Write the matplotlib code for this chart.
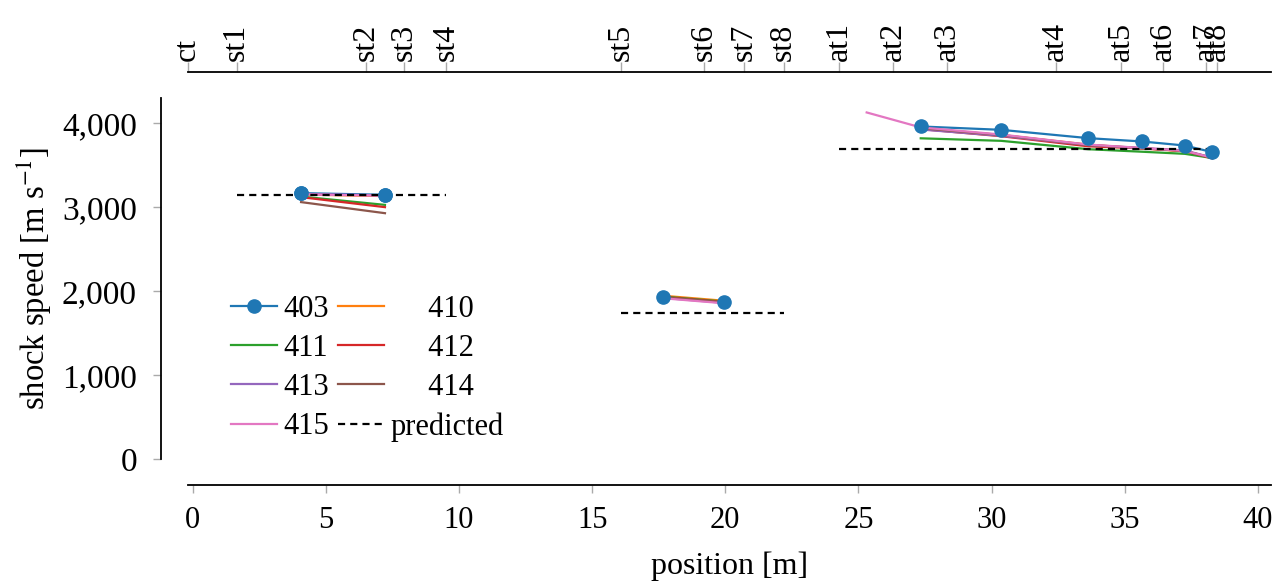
import matplotlib
matplotlib.use("Agg")
import matplotlib.pyplot as plt
from matplotlib.ticker import FuncFormatter

# sensor positions along the tube [m]
sensor_names = ["ct", "st1", "st2", "st3", "st4", "st5", "st6", "st7", "st8",
                "at1", "at2", "at3", "at4", "at5", "at6", "at7", "at8"]
sensor_pos = [-0.19, 1.65, 6.50, 7.95, 9.51, 16.09, 19.21, 20.70, 22.19,
              24.28, 26.31, 28.34, 32.41, 34.86, 36.45, 38.06, 38.48]

# measurement midpoints per section
x_sec1 = [4.07, 7.22]
x_sec2 = [17.65, 19.95]
x_sec3 = [27.34, 30.36, 33.63, 35.66, 37.26, 38.29]
x_sec3_415 = [25.31, 27.34, 30.36, 33.63, 35.66, 37.26, 38.29]

shots = ["403", "410", "411", "412", "413", "414", "415"]
colors = ["tab:blue", "tab:orange", "tab:green", "tab:red",
          "tab:purple", "tab:brown", "tab:pink"]

speed_sec1 = {
    "403": [3167, 3147],
    "410": [3150, 3132],
    "411": [3126, 3027],
    "412": [3119, 3000],
    "413": [3158, 3140],
    "414": [3060, 2928],
    "415": [3152, 3136],
}
speed_sec2 = {
    "403": [1934, 1868],
    "410": [1945, 1885],
    "411": [1935, 1875],
    "412": [1930, 1870],
    "413": [1920, 1860],
    "414": [1925, 1868],
    "415": [1915, 1855],
}
speed_sec3 = {
    "403": [3961, 3921, 3822, 3782, 3734, 3655],
    "410": [3935, 3860, 3745, 3700, 3665, 3590],
    "411": [3820, 3790, 3690, 3660, 3635, 3585],
    "412": [3930, 3845, 3725, 3700, 3670, 3580],
    "413": [3925, 3850, 3740, 3705, 3675, 3590],
    "414": [3940, 3860, 3740, 3700, 3670, 3585],
    "415": [4128, 3950, 3865, 3745, 3705, 3670, 3590],
}

# predicted shock speed per section (start sensor, end sensor, value)
pred_start = [1.65, 16.09, 24.28]
pred_end = [9.51, 22.19, 38.48]
pred_speed = [3140, 1737, 3695]

plt.rcParams["font.family"] = ["Liberation Serif", "DejaVu Serif"]
plt.rcParams["mathtext.fontset"] = "stix"

fig = plt.figure(figsize=(12.81, 5.81), dpi=100)
ax = fig.add_axes([0.1465, 0.2100, 0.8454, 0.6213])

handles = {}
for name, c in zip(shots, colors):
    x3 = x_sec3_415 if name == "415" else x_sec3
    lw = 1.6
    if name == "403":
        h, = ax.plot(x_sec1, speed_sec1[name], color=c, lw=lw, marker="o", ms=9.5, zorder=2)
        ax.plot(x_sec2, speed_sec2[name], color=c, lw=lw, zorder=2)
        ax.plot(x3, speed_sec3[name], color=c, lw=lw, zorder=2)
    else:
        h, = ax.plot(x_sec1, speed_sec1[name], color=c, lw=lw, zorder=3)
        ax.plot(x_sec2, speed_sec2[name], color=c, lw=lw, zorder=3)
        ax.plot(x3, speed_sec3[name], color=c, lw=lw, zorder=3)
    handles[name] = h

for x0, x1, v in zip(pred_start, pred_end, pred_speed):
    hp, = ax.plot([x0, x1], [v, v], color="black", lw=1.6, dashes=(3.2, 2.3), zorder=4)
handles["predicted"] = hp

# markers of 403 on top of everything
for xs, ys in [(x_sec1, speed_sec1["403"]), (x_sec2, speed_sec2["403"]),
               (x_sec3, speed_sec3["403"])]:
    ax.plot(xs, ys, "o", color="tab:blue", ms=9.5, zorder=5)

order = ["403", "411", "413", "415", "410", "412", "414", "predicted"]
labels = ["403", "411", "413", "415", "     410", "     412", "     414", "predicted"]
ax.legend([handles[k] for k in order], labels, ncol=2, frameon=False,
          fontsize=22, handlelength=1.5, handletextpad=0.2, columnspacing=0.3,
          labelspacing=0.33, borderaxespad=0, loc="lower left",
          bbox_to_anchor=(0.029, 0.014))

ax.set_xlim(sensor_pos[0], 40.48)
ax.set_ylim(0, 4300)
ax.set_xticks(range(0, 41, 5))
ax.set_yticks(range(0, 4001, 1000))
ax.yaxis.set_major_formatter(FuncFormatter(lambda v, p: f"{int(v):,}"))

for s in ["top", "right"]:
    ax.spines[s].set_visible(False)
ax.spines["left"].set_position(("outward", 19))
ax.spines["bottom"].set_position(("outward", 19))
for s in ["left", "bottom"]:
    ax.spines[s].set_linewidth(1.3)
ax.tick_params(axis="both", length=6, width=1, color="#aaaaaa")
ax.tick_params(axis="x", pad=9, labelsize=22)
ax.tick_params(axis="y", pad=11.5, labelsize=24)

ax.set_xlabel("position [m]", fontsize=23, labelpad=12)
ax.set_ylabel(r"shock speed [m s$^{-1}$]", fontsize=23.5, labelpad=6)

# sensor axis on top
ax2 = ax.twiny()
ax2.set_xlim(ax.get_xlim())
ax2.set_xticks(sensor_pos)
ax2.set_xticklabels(sensor_names)
for s in ["bottom", "left", "right"]:
    ax2.spines[s].set_visible(False)
ax2.spines["top"].set_position(("outward", 19))
ax2.spines["top"].set_linewidth(1.3)
ax2.tick_params(axis="x", length=7, width=1, color="#aaaaaa", labelsize=23,
                pad=1, labelrotation=90)
for t in ax2.get_xticklabels():
    t.set_verticalalignment("bottom")

fig.savefig("out.png", dpi=100)
